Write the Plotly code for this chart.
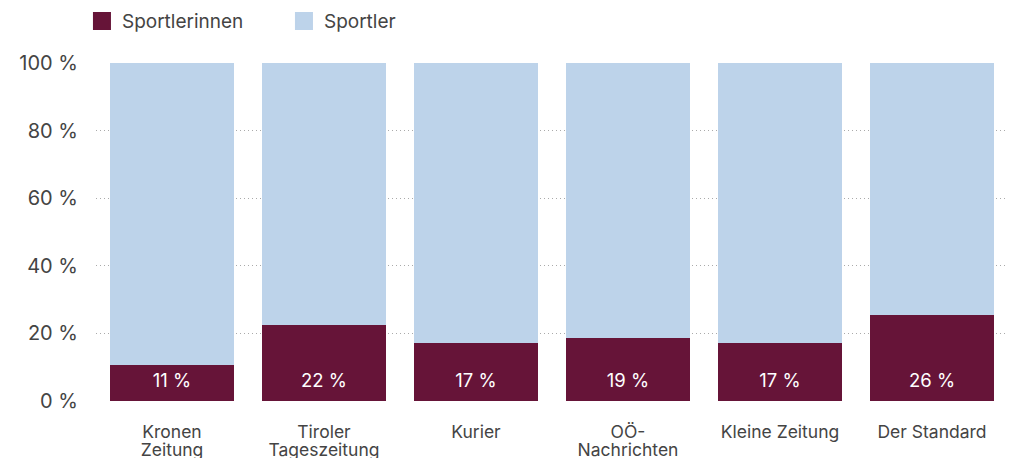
import plotly.graph_objects as go

categories = ["Kronen<br>Zeitung", "Tiroler<br>Tageszeitung", "Kurier", "OÖ-<br>Nachrichten", "Kleine Zeitung", "Der Standard"]
sportlerinnen = [10.7, 22.4, 17.1, 18.6, 17.1, 25.4]
sportler = [89.3, 77.6, 82.9, 81.4, 82.9, 74.6]
labels = ["11 %", "22 %", "17 %", "19 %", "17 %", "26 %"]
label_y = 5.6

line1 = [c.split("<br>")[0] for c in categories]
line2 = [c.split("<br>")[1] if "<br>" in c else "" for c in categories]

C_W = "#661438"
C_M = "#bdd3ea"
FONT = "Inter"
TXT = "#444444"

fig = go.Figure()
fig.add_trace(go.Bar(x=categories, y=sportlerinnen, marker=dict(color=C_W, line=dict(width=0)),
                     showlegend=False, hoverinfo="skip"))
fig.add_trace(go.Bar(x=categories, y=sportler, marker=dict(color=C_M, line=dict(width=0)),
                     showlegend=False, hoverinfo="skip"))
# bar value labels (on overlay axis, shares categories)
fig.add_trace(go.Scatter(x=categories, y=[label_y] * len(categories), mode="text", text=labels,
                         textfont=dict(family=FONT, size=18.5, color="white"),
                         xaxis="x2", showlegend=False, hoverinfo="skip"))
# legend proxies
fig.add_trace(go.Scatter(x=[None], y=[None], mode="markers", name="Sportlerinnen",
                         marker=dict(symbol="square", size=18, color=C_W, line=dict(width=2, color=C_W))))
fig.add_trace(go.Scatter(x=[None], y=[None], mode="markers", name="Sportler",
                         marker=dict(symbol="square", size=18, color=C_M, line=dict(width=2, color=C_M))))

fig.update_layout(
    width=1011, height=450,
    margin=dict(l=88, r=11, t=55, b=57, autoexpand=False),
    barmode="stack", bargap=0.184,
    plot_bgcolor="white", paper_bgcolor="white",
    font=dict(family=FONT, size=17, color=TXT),
    legend=dict(orientation="h", x=-0.0154, y=1.124, yanchor="middle", xanchor="left",
                traceorder="normal",
                font=dict(family=FONT, size=19, color=TXT), itemwidth=30,
                entrywidth=157),
    xaxis2=dict(overlaying="x", matches="x", side="bottom", anchor="y",
                tickmode="array", tickvals=categories, ticktext=line2,
                showgrid=False, zeroline=False, showline=False,
                ticks="outside", ticklen=33, tickcolor="rgba(0,0,0,0)",
                tickfont=dict(family=FONT, size=17.5, color=TXT), fixedrange=True),
)
fig.update_yaxes(range=[0, 100], tickvals=[0, 20, 40, 60, 80, 100],
                 ticktext=["0 %", "20 %", "40 %", "60 %", "80 %", "100 %"],
                 showgrid=True, gridcolor="#aaaaaa", griddash="1px,3px", gridwidth=1,
                 zeroline=False, ticks="outside", ticklen=13, tickcolor="rgba(0,0,0,0)",
                 tickfont=dict(family=FONT, size=20, color=TXT), fixedrange=True)
fig.layout.xaxis.update(range=[-0.5, 5.5], tickmode="array", tickvals=categories, ticktext=line1,
                        showgrid=False, zeroline=False, showline=False,
                        ticks="outside", ticklen=15, tickcolor="rgba(0,0,0,0)",
                        tickfont=dict(family=FONT, size=17.5, color=TXT), fixedrange=True)

fig.write_html("out.html")
